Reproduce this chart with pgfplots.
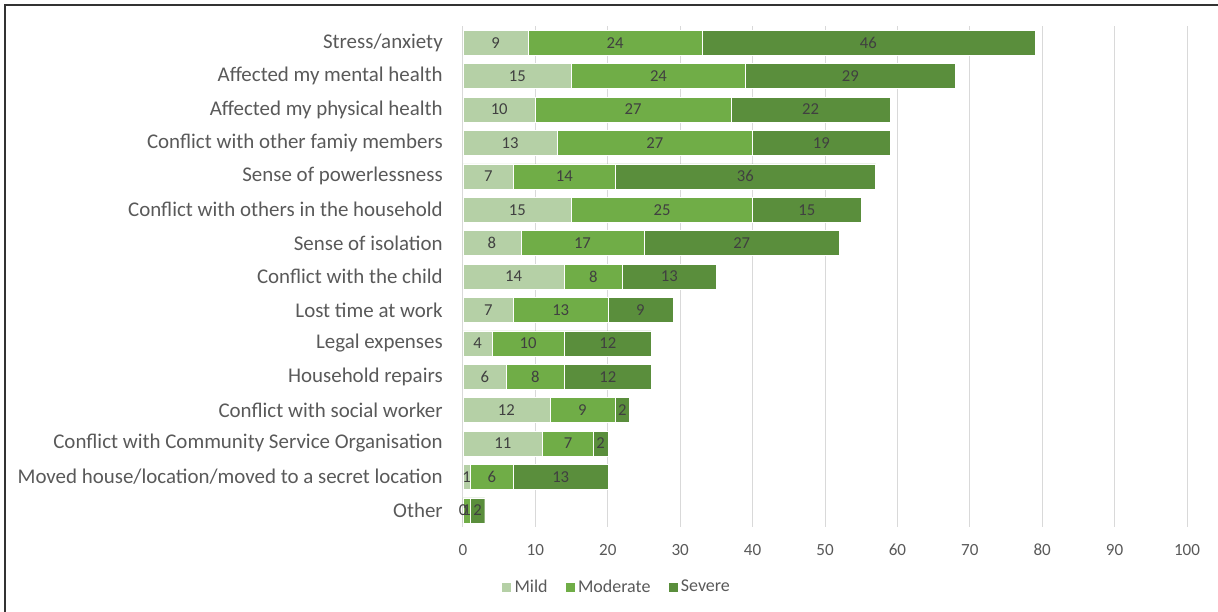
\documentclass[border=0pt]{standalone}
\usepackage{pgfplots}
\pgfplotsset{compat=1.18}
\usepackage{pgfplotstable}
\usepackage{fontspec}
\setmainfont{Carlito}
\definecolor{mild}{HTML}{B5D0A6}
\definecolor{moderate}{HTML}{70AD47}
\definecolor{severe}{HTML}{5A8E3C}
\definecolor{txt}{HTML}{595959}
\definecolor{lbl}{HTML}{404040}
\definecolor{gridc}{HTML}{D9D9D9}

\pgfplotstableread[col sep=comma]{
row,mild,moderate,severe
0,9,24,46
1,15,24,29
2,10,27,22
3,13,27,19
4,7,14,36
5,15,25,15
6,8,17,27
7,14,8,13
8,7,13,9
9,4,10,12
10,6,8,12
11,12,9,2
12,11,7,2
13,1,6,13
14,0,1,2
}\data

\begin{document}
\begin{tikzpicture}
\path[use as bounding box] (0,0) rectangle (913.5pt,458.25pt);
\draw[line width=1.3pt, color=black!80] (3.75pt,-2pt) -- (3.75pt,454.5pt) -- (916pt,454.5pt);
\begin{axis}[
  at={(347.25pt,63pt)}, anchor=south west,
  scale only axis, width=543pt, height=375.75pt,
  xbar stacked, bar width=18.75pt,
  xmin=0, xmax=100, ymin=-0.5, ymax=14.5, y dir=reverse,
  xtick={0,10,...,100}, ytick={0,...,14},
  yticklabels={Stress/anxiety, Affected my mental health, Affected my physical health, Conflict with other famiy members, Sense of powerlessness, Conflict with others in the household, Sense of isolation, Conflict with the child, Lost time at work, Legal expenses, Household repairs, Conflict with social worker, Conflict with Community Service Organisation, Moved house/location/moved to a secret location, Other},
  xmajorgrids, major grid style={gridc, line width=0.75pt},
  axis line style={draw=none}, major tick length=0pt,
  /pgf/number format/assume math mode=true,
  tick label style={text=txt},
  xticklabel style={font=\fontsize{12.8}{14}\selectfont, inner sep=0pt, anchor=north, yshift=-12.5pt},
  yticklabel style={font=\fontsize{15.7}{17}\selectfont, inner sep=0pt, anchor=east, xshift=-15pt},
  legend style={at={(0.2127,-0.1198)}, anchor=center, draw=none, fill=none, legend columns=3,
    font=\fontsize{13.5}{15}\selectfont, text=txt,
    /tikz/every even column/.append style={column sep=11pt}},
  legend image code/.code={\fill[#1] (0pt,-3.75pt) rectangle (7.5pt,3.75pt);},
]
\addplot[fill=mild, draw=white, line width=0.3pt] table[x=mild, y=row]{\data};
\addplot[fill=moderate, draw=white, line width=0.3pt] table[x=moderate, y=row]{\data};
\addplot[fill=severe, draw=white, line width=0.3pt] table[x=severe, y=row]{\data};
\legend{Mild,Moderate,Severe}
\end{axis}
\begin{axis}[
  at={(347.25pt,63pt)}, anchor=south west,
  scale only axis, width=543pt, height=375.75pt,
  xmin=0, xmax=100, ymin=-0.5, ymax=14.5, y dir=reverse,
  hide axis, clip=false,
  nodes near coords, point meta=explicit symbolic,
  nodes near coords style={anchor=center, font=\fontsize{12.5}{14}\selectfont, text=lbl, inner sep=0pt},
]
\addplot[draw=none, mark=none] table[x expr=\thisrow{mild}/2, y=row, meta=mild]{\data};
\addplot[draw=none, mark=none] table[x expr=\thisrow{mild}+\thisrow{moderate}/2, y=row, meta=moderate]{\data};
\addplot[draw=none, mark=none] table[x expr=\thisrow{mild}+\thisrow{moderate}+\thisrow{severe}/2, y=row, meta=severe]{\data};
\end{axis}
\end{tikzpicture}
\end{document}
